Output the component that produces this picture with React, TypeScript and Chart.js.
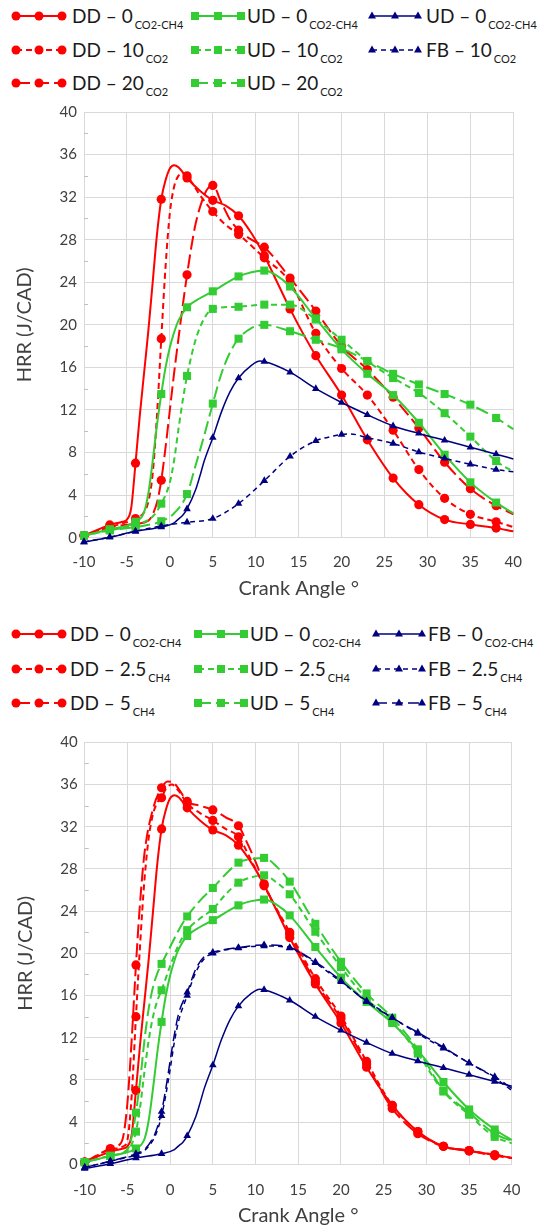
import React, { useEffect, useRef } from 'react';
import { Chart, registerables } from 'chart.js';

Chart.register(...registerables);

// Crank angles at which markers are shown
const CA = [-10, -7, -4, -1, 2, 5, 8, 11, 14, 17, 20, 23, 26, 29, 32, 35, 38];
const X_MIN = -10, X_MAX = 40, X_STEP = 5;
const Y_MIN = 0, Y_MAX = 40, Y_STEP = 4;
const Y_MINOR = [2, 6, 10, 14, 18, 22, 26, 30, 34, 38];

// ---------- Chart 1 (CO2 dilution) ----------
const DD0_M = [0.2, 1.2, 7.0, 31.8, 33.8, 31.7, 30.25, 26.5, 21.5, 17.1, 13.4, 9.2, 5.6, 3.1, 1.7, 1.25, 0.9];
const DD0_KX = [-5.5, -5, -4.5, -3.5, -3, -2.5, -2, -1.5, -0.5, 0, 0.5, 1, 3.5, 6.5, 9.5, 12.5, 15.5, 40];
const DD0_KY = [1.5, 1.7, 2.8, 11.5, 15.5, 19.5, 24, 28.5, 33.6, 34.7, 35.0, 34.8, 32.6, 31.2, 28.6, 24.0, 19.2, 0.6];

const DD10_M = [0.2, 1.0, 1.8, 18.7, 34.0, 30.65, 28.5, 26.3, 24.0, 19.2, 15.9, 13.4, 10.1, 6.4, 3.7, 2.2, 1.5];
const DD10_KX = [-3, -2.5, -2, -1.5, -0.5, 0, 0.5, 1, 1.5, 3.5, 6.5, 40];
const DD10_KY = [2.4, 3.4, 6.0, 11.5, 25.5, 30.5, 33.0, 34.0, 34.3, 32.2, 29.4, 1.0];

const DD20_M = [0.2, 1.0, 1.3, 5.4, 24.7, 33.1, 28.9, 27.3, 24.4, 21.3, 18.0, 15.8, 13.2, 10.3, 7.1, 4.6, 3.0];
const DD20_KX = [-2.5, -2, -1.5, -0.5, 0, 0.5, 1, 1.5, 2.5, 3, 4, 4.5, 6, 7, 9.5, 40];
const DD20_KY = [1.6, 2.2, 3.3, 8.5, 12.0, 15.5, 18.7, 21.8, 27.3, 29.5, 32.2, 32.9, 31.5, 29.9, 28.0, 2.2];

const UD0_M = [0.2, 0.8, 1.5, 13.5, 21.65, 23.15, 24.55, 25.1, 23.6, 20.6, 17.7, 15.4, 13.4, 10.8, 7.8, 5.2, 3.3];
const UD0_KX = [-3, -2.5, -2, -1.5, -0.5, 0, 0.5, 1, 3.5, 9.5, 12.5, 40];
const UD0_KY = [2.4, 4.2, 7.2, 10.6, 16.0, 17.9, 19.3, 20.4, 22.5, 24.95, 24.6, 2.3];

const UD10_M = [0.2, 0.7, 1.2, 3.2, 15.2, 21.5, 21.7, 21.9, 21.9, 20.5, 18.6, 16.6, 15.0, 13.6, 11.7, 9.5, 7.2];
const UD10_KX = [-2, 0, 0.5, 1, 1.5, 3, 4, 40];
const UD10_KY = [2.0, 5.2, 7.3, 10.2, 12.9, 18.6, 20.6, 6.2];

const UD20_M = [0.2, 0.7, 1.0, 1.55, 4.1, 12.6, 18.7, 20.0, 19.4, 18.6, 17.8, 16.6, 15.4, 14.4, 13.5, 12.5, 11.25];
const UD20_KX = [0.5, 3, 4, 6, 7, 9.5, 40];
const UD20_KY = [2.3, 6.8, 9.6, 15.4, 17.4, 19.7, 10.2];

const FB0_M = [-0.4, 0.05, 0.6, 1.0, 2.7, 9.4, 15.0, 16.55, 15.55, 14.0, 12.7, 11.55, 10.5, 9.8, 9.15, 8.5, 7.85];
const FB0_KX = [0.5, 1, 1.5, 3, 3.5, 4, 6, 7, 9.5, 10.5, 40];
const FB0_KY = [1.4, 1.75, 2.1, 4.5, 5.8, 7.2, 11.8, 13.7, 16.2, 16.6, 7.4];

const FB10_M = [-0.4, 0.05, 0.6, 1.1, 1.45, 1.8, 3.2, 5.35, 7.65, 9.1, 9.7, 9.4, 8.85, 8.05, 7.45, 6.9, 6.4];
const FB10_KX = [19, 21, 40];
const FB10_KY = [9.55, 9.75, 6.2];

// ---------- Chart 2 (CH4 addition) ----------
const DD25_M = [0.2, 1.4, 14.0, 34.75, 34.2, 32.6, 31.05, 26.4, 22.0, 17.6, 14.05, 9.75, 5.6, 3.1, 1.7, 1.3, 0.9];
const DD25_KX = [-5.5, -5, -4.5, -3.5, -3, -2.5, -2, -1.5, -0.5, 0.2, 1, 3.5, 6.5, 9.5, 40];
const DD25_KY = [1.7, 2.3, 6.5, 21.0, 27.0, 31.0, 33.2, 34.3, 35.6, 36.0, 35.4, 33.3, 31.8, 28.8, 0.6];

const DD5_M = [0.2, 1.5, 18.9, 35.7, 34.4, 33.6, 32.1, 26.6, 21.8, 17.3, 13.8, 9.5, 5.3, 2.9, 1.7, 1.3, 0.8];
const DD5_KX = [-6, -5.5, -5, -4.5, -3.5, -3, -2, -0.3, 0.5, 1, 3.5, 6.5, 9, 10, 40];
const DD5_KY = [1.8, 2.6, 5.8, 11.8, 25.0, 29.5, 33.7, 36.3, 36.1, 35.6, 34.0, 32.9, 30.5, 28.7, 0.6];

const UD25_M = [0.2, 0.8, 3.1, 16.5, 22.2, 24.2, 26.7, 27.4, 25.6, 22.05, 18.7, 15.7, 13.6, 10.5, 6.9, 4.7, 2.6];
const UD25_KX = [-5, -4.5, -3.5, -3, -2.5, -2, -1.5, 0, 1, 3.5, 6.5, 9.5, 12.5, 40];
const UD25_KY = [1.3, 1.9, 5.5, 8.8, 11.8, 14.0, 15.5, 18.8, 20.8, 23.3, 25.6, 27.2, 26.7, 2.0];

const UD5_M = [0.2, 0.8, 4.9, 19.0, 23.5, 26.2, 28.6, 29.05, 26.8, 22.8, 19.2, 16.2, 13.9, 10.9, 7.0, 4.9, 2.9];
const UD5_KX = [-5, -4.5, -3.5, -3, -2.5, -2, -1.5, 0, 1, 3.5, 6.5, 9.5, 12.5, 40];
const UD5_KY = [1.4, 2.6, 8.0, 11.8, 14.8, 16.8, 18.1, 20.6, 22.2, 25.0, 27.5, 28.95, 28.2, 2.2];

const FB25_M = [-0.3, 0.3, 0.9, 4.6, 16.0, 20.0, 20.5, 20.7, 20.5, 19.1, 17.3, 15.5, 13.9, 12.4, 11.0, 9.6, 8.2];
const FB25_KX = [-3, -2, -1.5, -0.5, 0, 0.5, 1, 3, 4, 40];
const FB25_KY = [1.3, 2.3, 3.2, 6.6, 9.0, 11.6, 13.6, 18.2, 19.5, 7.0];

const FB5_M = [-0.3, 0.3, 1.0, 5.0, 16.3, 20.1, 20.55, 20.8, 20.55, 19.2, 17.4, 15.4, 13.9, 12.5, 11.1, 9.6, 8.3];
const FB5_KX = [-3, -2, -1.5, -0.5, 0, 0.5, 1, 3, 4, 40];
const FB5_KY = [1.4, 2.5, 3.5, 7.2, 9.8, 12.3, 14.3, 18.5, 19.7, 7.2];

// ---------- styles ----------
const RED = '#ff0000';
const GREEN = '#33cc33';
const NAVY = '#000080';
const TEXT = '#404040';
const GRID = '#d9d9d9';
const FONT = 'Lato, "Open Sans", sans-serif';

const STYLE: any = {
  DD: { color: RED, shape: 'circle', r: 4.6, width: 2 },
  UD: { color: GREEN, shape: 'rect', r: 5.7, width: 2 },
  FB: { color: NAVY, shape: 'triangle', r: 4.4, width: 1.5 },
};
const DASHES: any = {
  DD: [[], [6, 4], [14, 5]],
  UD: [[], [6, 4], [13, 5]],
  FB: [[], [5, 4], [11, 5]],
};
const GROUP: any = { DD: 0, UD: 1, FB: 2 };

type Spec = { kind: string; v: number; main: string; sub: string; m: number[]; kx: number[]; ky: number[] };

const SERIES1: Spec[] = [
  { kind: 'DD', v: 0, main: 'DD – 0', sub: 'CO2-CH4', m: DD0_M, kx: DD0_KX, ky: DD0_KY },
  { kind: 'DD', v: 1, main: 'DD – 10', sub: 'CO2', m: DD10_M, kx: DD10_KX, ky: DD10_KY },
  { kind: 'DD', v: 2, main: 'DD – 20', sub: 'CO2', m: DD20_M, kx: DD20_KX, ky: DD20_KY },
  { kind: 'UD', v: 0, main: 'UD – 0', sub: 'CO2-CH4', m: UD0_M, kx: UD0_KX, ky: UD0_KY },
  { kind: 'UD', v: 1, main: 'UD – 10', sub: 'CO2', m: UD10_M, kx: UD10_KX, ky: UD10_KY },
  { kind: 'UD', v: 2, main: 'UD – 20', sub: 'CO2', m: UD20_M, kx: UD20_KX, ky: UD20_KY },
  { kind: 'FB', v: 0, main: 'UD – 0', sub: 'CO2-CH4', m: FB0_M, kx: FB0_KX, ky: FB0_KY },
  { kind: 'FB', v: 1, main: 'FB – 10', sub: 'CO2', m: FB10_M, kx: FB10_KX, ky: FB10_KY },
];

const SERIES2: Spec[] = [
  { kind: 'DD', v: 0, main: 'DD – 0', sub: 'CO2-CH4', m: DD0_M, kx: DD0_KX, ky: DD0_KY },
  { kind: 'DD', v: 1, main: 'DD – 2.5', sub: 'CH4', m: DD25_M, kx: DD25_KX, ky: DD25_KY },
  { kind: 'DD', v: 2, main: 'DD – 5', sub: 'CH4', m: DD5_M, kx: DD5_KX, ky: DD5_KY },
  { kind: 'UD', v: 0, main: 'UD – 0', sub: 'CO2-CH4', m: UD0_M, kx: UD0_KX, ky: UD0_KY },
  { kind: 'UD', v: 1, main: 'UD – 2.5', sub: 'CH4', m: UD25_M, kx: UD25_KX, ky: UD25_KY },
  { kind: 'UD', v: 2, main: 'UD – 5', sub: 'CH4', m: UD5_M, kx: UD5_KX, ky: UD5_KY },
  { kind: 'FB', v: 0, main: 'FB – 0', sub: 'CO2-CH4', m: FB0_M, kx: FB0_KX, ky: FB0_KY },
  { kind: 'FB', v: 1, main: 'FB – 2.5', sub: 'CH4', m: FB25_M, kx: FB25_KX, ky: FB25_KY },
  { kind: 'FB', v: 2, main: 'FB – 5', sub: 'CH4', m: FB5_M, kx: FB5_KX, ky: FB5_KY },
];

function buildPoints(markers: number[], kx: number[], ky: number[]) {
  const pts: any[] = CA.map((x, i) => ({ x, y: markers[i], m: true }));
  kx.forEach((x, i) => pts.push({ x, y: ky[i], m: false }));
  pts.sort((a, b) => a.x - b.x);
  return pts;
}

const minorTicks = {
  id: 'minorTicks',
  beforeDatasetsDraw(chart: any) {
    const y = chart.scales.y;
    const left = chart.chartArea.left;
    const ctx = chart.ctx;
    ctx.save();
    ctx.strokeStyle = '#bfbfbf';
    ctx.lineWidth = 1;
    Y_MINOR.forEach((v) => {
      const p = Math.round(y.getPixelForValue(v)) + 0.5;
      ctx.beginPath();
      ctx.moveTo(left, p);
      ctx.lineTo(left + 4, p);
      ctx.stroke();
    });
    ctx.restore();
  },
};

type Layout = {
  top: number; height: number; padTop: number; padRight: number; yWidth: number;
  xHeight: number; xTickPad: number; xTitlePad: number; yTitlePad: number;
};

function HrrChart({ series, layout }: { series: Spec[]; layout: Layout }) {
  const ref = useRef<HTMLCanvasElement>(null);
  useEffect(() => {
    const n = series.length;
    const datasets = series.map((s, i) => {
      const st = STYLE[s.kind];
      return {
        label: s.main + ' ' + s.sub,
        data: buildPoints(s.m, s.kx, s.ky),
        borderColor: st.color,
        backgroundColor: st.color,
        borderWidth: st.width,
        borderDash: DASHES[s.kind][s.v],
        pointStyle: st.shape,
        pointRadius: (c: any) => (c.raw && c.raw.m ? st.r : 0),
        pointBorderWidth: 0,
        pointBackgroundColor: st.color,
        pointBorderColor: st.color,
        cubicInterpolationMode: 'monotone',
        fill: false,
        clip: false,
        order: n - i,
      };
    });
    const tickFont = { family: FONT, size: 15 };
    const titleFont = { family: FONT, size: 20 };
    const chart = new Chart(ref.current as HTMLCanvasElement, {
      type: 'line',
      data: { datasets } as any,
      options: {
        animation: false,
        responsive: false,
        devicePixelRatio: 1,
        events: [],
        layout: { padding: { top: layout.padTop, right: layout.padRight, bottom: 0, left: 0 } },
        plugins: { legend: { display: false }, tooltip: { enabled: false } },
        scales: {
          x: {
            type: 'linear',
            min: X_MIN,
            max: X_MAX,
            ticks: { stepSize: X_STEP, padding: layout.xTickPad, color: TEXT, font: tickFont, maxRotation: 0 },
            grid: { color: GRID, drawTicks: false, lineWidth: 1 },
            border: { color: GRID },
            title: { display: true, text: 'Crank Angle °', color: TEXT, font: titleFont, padding: { top: 0, bottom: layout.xTitlePad } },
            afterFit: (s: any) => { s.height = layout.xHeight; },
          },
          y: {
            type: 'linear',
            min: Y_MIN,
            max: Y_MAX,
            ticks: { stepSize: Y_STEP, padding: 7, color: TEXT, font: tickFont },
            grid: { color: GRID, drawTicks: false, lineWidth: 1 },
            border: { color: GRID },
            title: { display: true, text: 'HRR (J/CAD)', color: TEXT, font: titleFont, padding: { top: layout.yTitlePad, bottom: 0 } },
            afterFit: (s: any) => { s.width = layout.yWidth; },
          },
        },
      } as any,
      plugins: [minorTicks],
    });
    return () => chart.destroy();
  }, []);
  return (
    <canvas
      ref={ref}
      width={537}
      height={layout.height}
      style={{ position: 'absolute', left: 0, top: layout.top, width: 537, height: layout.height }}
    />
  );
}

function Sym({ kind, v, left, cy }: { kind: string; v: number; left: number; cy: number }) {
  const st = STYLE[kind];
  const dash = DASHES[kind][v];
  const cxs = [6, 29, 52];
  return (
    <svg width={60} height={16} style={{ position: 'absolute', left: left - 6, top: cy - 8 }}>
      <line x1={6} y1={8} x2={52} y2={8} stroke={st.color} strokeWidth={st.width}
        strokeDasharray={dash.length ? dash.join(' ') : undefined} />
      {cxs.map((cx) => {
        if (kind === 'DD') return <circle key={cx} cx={cx} cy={8} r={4.5} fill={st.color} />;
        if (kind === 'UD') return <rect key={cx} x={cx - 4} y={4} width={8} height={8} fill={st.color} />;
        return <polygon key={cx} points={`${cx},3.6 ${cx - 4},10.4 ${cx + 4},10.4`} fill={st.color} />;
      })}
    </svg>
  );
}

function Legend({ series, symX, textX, rows }: { series: Spec[]; symX: number[]; textX: number[]; rows: number[] }) {
  return (
    <>
      {series.map((s, i) => {
        const col = GROUP[s.kind];
        const cy = rows[s.v];
        return (
          <React.Fragment key={i}>
            <Sym kind={s.kind} v={s.v} left={symX[col]} cy={cy} />
            <div style={{ position: 'absolute', left: textX[col], top: cy - 13, height: 26, lineHeight: '26px', fontSize: 19, whiteSpace: 'nowrap', color: '#1a1a1a', fontFamily: FONT }}>
              {s.main}
              <span style={{ fontSize: 11, position: 'relative', top: 6, marginLeft: 2 }}>{s.sub}</span>
            </div>
          </React.Fragment>
        );
      })}
    </>
  );
}

const LAYOUT1: Layout = { top: 96, height: 514, padTop: 15, padRight: 9.5, yWidth: 84, xHeight: 72.3, xTickPad: 15, xTitlePad: 9.6, yTitlePad: 13 };
const LAYOUT2: Layout = { top: 716, height: 513, padTop: 26.4, padRight: 16, yWidth: 84.7, xHeight: 64.7, xTickPad: 16.5, xTitlePad: 1, yTitlePad: 14 };

export default function App() {
  return (
    <div style={{ position: 'absolute', left: 0, top: 0, width: 537, height: 1229, background: '#fff', overflow: 'hidden', fontFamily: FONT }}>
      <Legend series={SERIES1} symX={[16, 195, 372]} textX={[72, 247, 426]} rows={[16, 50, 83]} />
      <HrrChart series={SERIES1} layout={LAYOUT1} />
      <Legend series={SERIES2} symX={[16, 198, 376]} textX={[70, 250, 428]} rows={[634, 669, 703]} />
      <HrrChart series={SERIES2} layout={LAYOUT2} />
    </div>
  );
}
